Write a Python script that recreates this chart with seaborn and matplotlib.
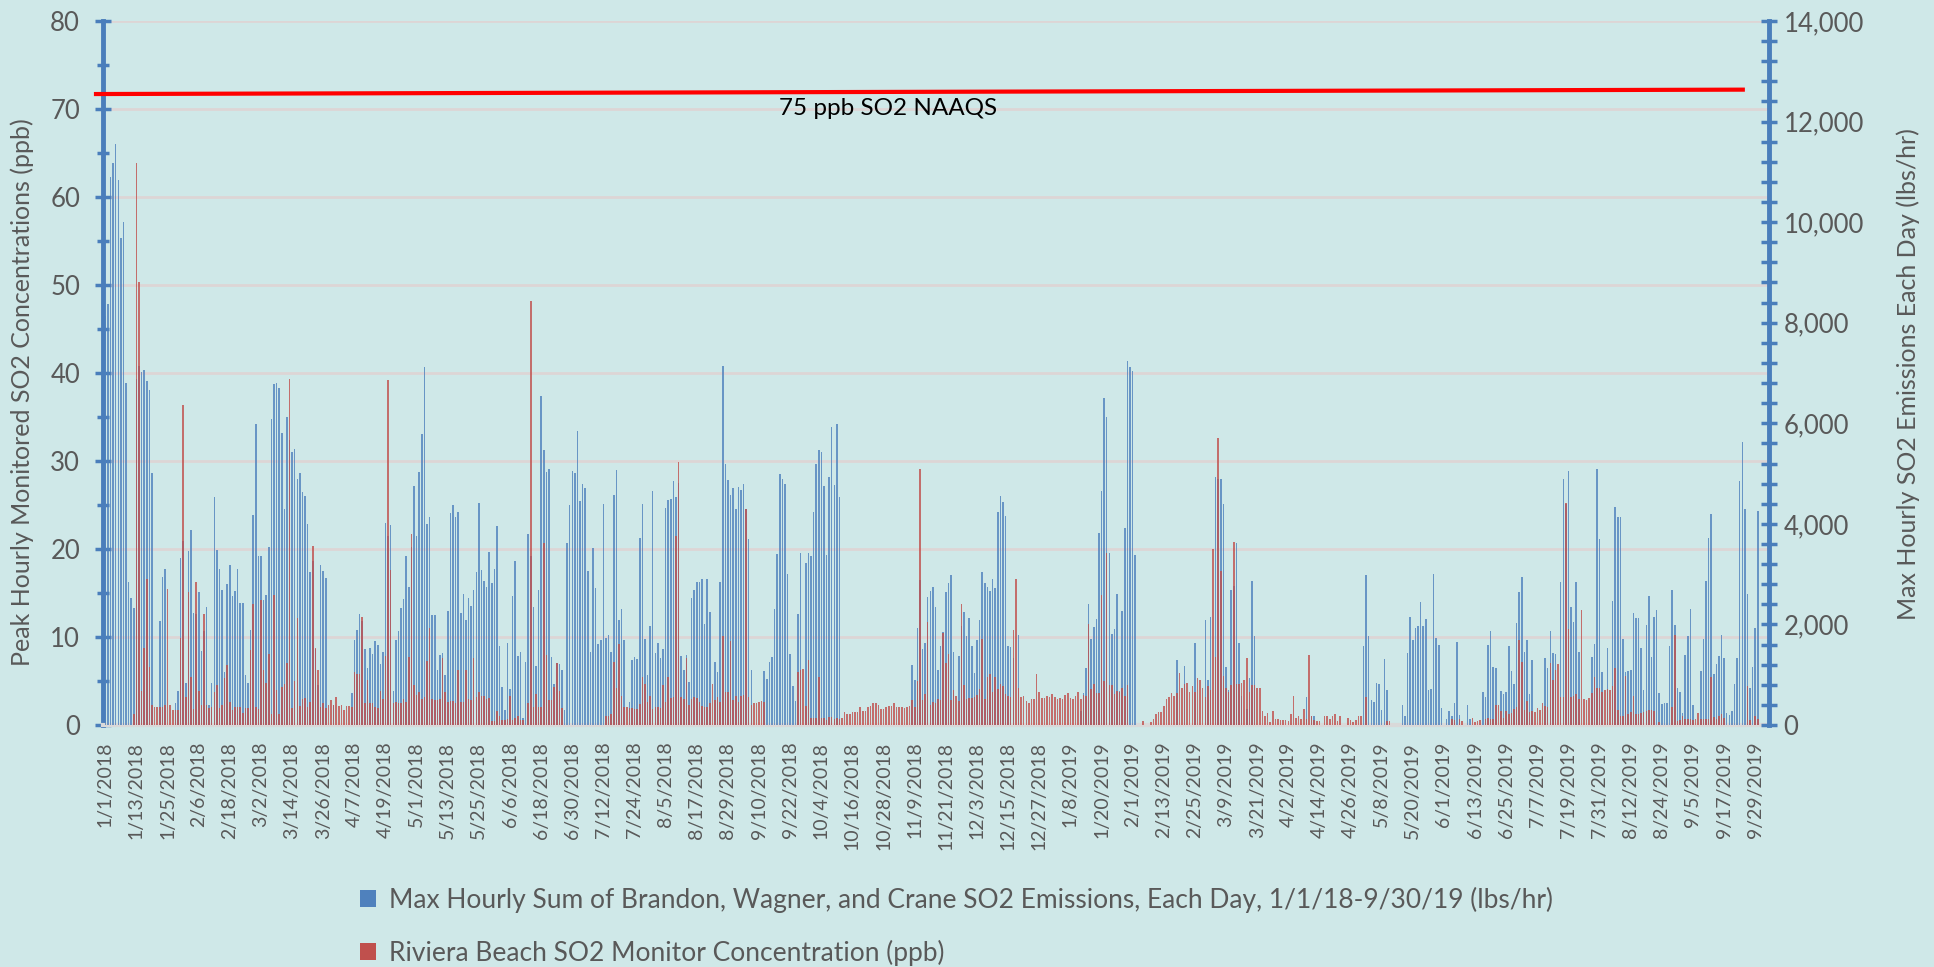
import numpy as np
import pandas as pd
import matplotlib
matplotlib.use("Agg")
import matplotlib.pyplot as plt
import seaborn as sns
from matplotlib.ticker import MultipleLocator, FuncFormatter
from matplotlib.patches import Patch

# ---------------- data ----------------
# Max hourly summed SO2 emissions (lbs/hr), one value per day, by period
emis_jan_feb18 = [8130, 8380, 10890, 11170, 11560, 10830, 9690, 10010, 6800, 2850,
                  2530, 2330, 6880, 7130, 7020, 7060, 6850, 6660, 5020, 0,
                  0, 2070, 2940, 3100, 0, 0, 0, 440, 680, 3320,
                  3650, 840, 3460, 3870, 2220, 2210, 2640, 1480, 1860, 2340,
                  390, 840, 4540, 3490, 3100, 2690, 1050, 2800, 3180, 2560,
                  2670, 3100, 2430, 2420, 1000, 840, 1890, 4170]
emis_feb_apr18 = [5980, 3360, 3360, 2490, 2580, 3530, 6080, 6780, 6810, 6710,
                  5800, 4290, 6130, 5660, 5430, 5480, 4890, 5020, 4630, 4550,
                  3990, 3040, 3260, 1520, 790, 3180, 3060, 2920, 0, 0,
                  390, 0, 0, 0, 0, 0, 0, 640, 1700, 1890,
                  2200, 2060, 1510, 1130, 1540, 1420, 1670, 1600, 1210, 1450,
                  4010, 3760, 3980, 680, 1700, 1860, 2330, 2500, 3360]
emis_apr_jun18 = [2750, 3530, 4760, 3750, 5040, 5780, 7110, 4000, 4130, 2180,
                  2190, 1100, 1400, 1440, 1000, 2260, 4210, 4380, 4130, 4230,
                  2220, 2610, 2090, 2520, 2370, 2690, 3040, 4420, 3090, 2870,
                  2750, 3450, 2820, 3100, 3950, 1580, 750, 290, 1640, 720,
                  2560, 3260, 1370, 1450, 140, 1260, 3800, 3360, 2350, 1170,
                  2680, 6540, 5460, 5030, 5100, 1350, 820, 1230]
emis_jun_aug18 = [1220, 1100, 300, 3610, 4370, 5060, 5010, 5840, 4450, 4790,
                  4720, 3060, 1450, 3510, 2720, 1610, 1690, 4390, 1740, 1780,
                  1460, 4580, 5080, 2080, 2300, 1700, 0, 450, 1300, 1360,
                  1320, 3720, 4390, 1720, 1000, 1960, 4660, 1430, 1640, 1330,
                  1520, 4320, 4470, 4490, 4850, 4530, 4810, 1380, 1090, 1400,
                  860, 2530, 2690, 2850, 2850, 2900, 2000, 2910, 2240]
emis_aug_oct18 = [0, 1260, 1060, 2850, 7130, 5200, 4870, 4580, 4720, 4290,
                  4740, 4670, 4790, 4290, 3700, 1100, 0, 0, 0, 0,
                  1080, 910, 1250, 1350, 2310, 3400, 4990, 4890, 4800, 3000,
                  1410, 770, 480, 2200, 3420, 0, 3220, 3420, 3360, 4240,
                  5200, 5460, 5430, 4760, 3380, 4940, 5930, 4780, 5990, 4530,
                  0, 0, 0, 0, 0, 0, 0, 0]
emis_oct_dec18 = [0, 0, 0, 0, 0, 0, 0, 0, 0, 0,
                  0, 0, 0, 0, 0, 0, 0, 0, 0,
                  1200, 890, 1930, 2880, 1510, 1640, 2540, 2660, 2750, 2340,
                  1100, 1580, 1840, 2650, 2820, 2980, 1460, 0, 1370, 1970,
                  2240, 1770, 2120, 1580, 1030, 1690, 2080, 3050, 2820, 2740,
                  2670, 2910, 2720, 4240, 4550, 4440, 4160, 1570, 1550, 1330]
emis_dec18_feb19 = [0, 1780,
                    0, 0, 0, 0, 0, 0, 0, 0, 0, 0,
                    0, 0, 0, 0, 0, 0, 0, 0, 0, 0,
                    0, 0, 0,
                    270, 630, 1130, 2410, 1710, 1950, 2110, 3810, 4660, 6510,
                    6130, 3430, 1800, 1900, 2600, 670, 2270, 3910, 7230, 7120,
                    7030, 3380, 0, 0, 0, 0, 0, 0, 0, 0, 0, 0, 0]
emis_feb_apr19 = [0, 0, 0, 0, 1300, 0, 0, 1170, 0, 0,
                  0, 1640, 0, 0, 0, 2080, 890, 2140, 0, 4930,
                  4900, 4890, 4390, 1150, 700, 2680, 2770, 3610, 1630, 580,
                  0, 310, 930, 2860, 1770, 0, 0, 0, 0, 0,
                  0, 0, 0, 0, 0, 0, 0, 0, 0, 0, 0, 0, 0, 0,
                  560, 0, 180, 180]
emis_apr_jun19 = [0, 0, 0, 0, 0, 0, 0, 0, 0, 0, 0, 0, 0, 0, 0, 0, 0, 0,
                  1570, 2980, 1770, 500, 460, 840, 810, 300, 1320, 700,
                  0, 0, 0, 0, 0, 400, 180, 1430, 2150, 1700,
                  1930, 1960, 2450, 1970, 2110, 690, 720, 3000, 1730, 1600,
                  330, 0, 110, 270, 170, 440, 1650, 200, 0, 0, 400]
emis_jun_aug19 = [120, 0, 0, 0, 0, 660, 560, 1600, 1870, 1150,
                  1130, 0, 680, 610, 650, 1570, 1070, 810, 2030, 2640,
                  2940, 1460, 1690, 610, 1300, 0, 0, 0, 0, 1340,
                  1130, 1860, 1440, 1410, 0, 2850, 4890, 4400, 5060, 2350,
                  2040, 2850, 1450, 0, 0, 0, 0, 1360, 1620, 5090,
                  3690, 1050, 0, 1540, 0, 2470, 4340, 4130, 4140]
emis_aug_sep19 = [1710, 1060, 1080, 1090, 2220, 2120, 2130, 1540, 690, 1980,
                  2570, 1360, 2140, 2280, 630, 410, 430, 440, 1570, 2690,
                  1990, 730, 660, 240, 1390, 1770, 2310, 390, 0, 0,
                  1070, 1720, 2870, 3710, 4190, 1010, 1220, 1380, 1790, 1340,
                  240, 200, 270, 810, 1340, 4860, 5630, 4300, 2600, 740,
                  1150, 1920, 4260]

# Riviera Beach SO2 monitor peak hourly concentration (ppb), by period
conc_jan_feb18 = [0, 0, 0, 0, 0, 0, 0, 0, 0, 0,
                  0, 1.3, 63.9, 50.3, 3.9, 8.7, 16.6, 6.6, 2.3, 2.1,
                  2.1, 2.1, 2.1, 2.3, 15.5, 2.3, 1.7, 1.7, 1.7, 9.9,
                  36.4, 3.2, 15.1, 5.4, 1.8, 16.2, 3.9, 2.3, 12.6, 2.3,
                  1.9, 2.1, 3.8, 4.6, 1.9, 2.3, 5.3, 6.8, 2.6, 1.7,
                  2.1, 2.0, 2.0, 1.4, 1.9, 1.9, 8.5, 13.7]
conc_feb_apr18 = [2.1, 1.8, 14.2, 6.2, 4.8, 8.1, 1.3, 14.8, 4.0, 1.3,
                  4.3, 4.7, 7.1, 39.3, 1.9, 5.0, 12.2, 2.2, 3.0, 3.1,
                  2.0, 2.6, 20.3, 8.7, 6.3, 2.1, 2.5, 1.9, 2.3, 2.8,
                  2.3, 3.2, 2.2, 2.3, 1.7, 2.2, 2.2, 2.1, 6.0, 5.8,
                  5.8, 12.3, 2.5, 5.1, 2.5, 2.5, 2.1, 1.9, 3.9, 2.9,
                  7.8, 39.2, 17.6, 2.5, 2.6, 2.5, 2.5, 3.0, 2.6]
conc_apr_jun18 = [7.7, 21.7, 4.5, 3.4, 3.7, 3.0, 3.2, 7.3, 11.0, 3.0,
                  2.8, 2.8, 3.0, 7.6, 3.7, 2.6, 2.7, 2.7, 2.5, 6.2,
                  2.6, 2.6, 6.3, 2.9, 2.8, 7.6, 3.2, 3.7, 3.3, 3.3,
                  3.0, 3.1, 0.4, 0.5, 1.6, 1.0, 0.6, 0.6, 0.7, 3.3,
                  0.6, 0.8, 1.0, 0.6, 0.6, 0, 2.5, 48.2, 2.1, 3.5,
                  2.1, 2.1, 20.7, 7.9, 2.8, 2.8, 4.3, 7.0]
conc_jun_aug18 = [3.9, 1.9, 0, 0, 0, 0, 0, 0, 0, 0,
                  0, 0, 0, 0, 0, 0, 0, 0, 1.0, 1.0,
                  1.3, 7.2, 4.2, 9.2, 3.3, 2.1, 2.0, 1.9, 1.9, 1.8,
                  1.8, 2.4, 5.5, 4.7, 2.6, 3.3, 1.8, 2.0, 2.1, 1.9,
                  4.6, 2.6, 5.4, 3.1, 3.2, 21.5, 29.9, 3.2, 3.0, 7.6,
                  2.3, 2.9, 3.2, 3.1, 2.6, 2.2, 2.1, 2.1, 2.5]
conc_aug_oct18 = [4.7, 2.8, 3.2, 2.6, 10.1, 3.7, 3.8, 9.6, 2.8, 3.3,
                  2.6, 3.3, 3.4, 24.6, 3.2, 2.3, 2.5, 2.5, 2.6, 2.7,
                  2.6, 0, 0, 0, 0, 0, 0, 0, 0, 0,
                  0, 0, 0, 6.0, 6.3, 6.4, 2.2, 7.4, 0.8, 0.8,
                  0.8, 5.4, 0.8, 0.8, 0.6, 0.9, 0.9, 0.7, 0.8, 0.7,
                  0.8, 1.5, 1.3, 1.3, 1.5, 1.5, 1.5, 2.0]
conc_oct_dec18 = [1.6, 1.6, 2.0, 2.2, 2.5, 2.5, 2.3, 1.8, 1.8, 2.0,
                  2.2, 2.2, 2.5, 2.0, 2.1, 2.1, 1.9, 2.1, 2.2,
                  2.8, 2.0, 5.0, 29.1, 2.8, 3.5, 11.7, 2.3, 2.6, 2.5,
                  3.0, 2.8, 10.5, 7.0, 8.1, 2.8, 4.0, 3.3, 2.7, 13.7,
                  4.6, 3.0, 3.1, 3.1, 3.2, 3.4, 4.1, 9.8, 3.0, 5.5,
                  5.8, 3.7, 5.5, 4.1, 4.7, 4.4, 3.5, 3.3, 3.2, 10.8]
conc_dec18_feb19 = [16.6, 4.2,
                    3.2, 3.3, 2.7, 2.5, 2.9, 3.0, 5.8, 3.7, 3.1, 3.1,
                    3.3, 3.2, 3.5, 3.2, 3.0, 3.1, 3.0, 3.4, 3.6, 3.1,
                    2.9, 3.3, 3.7,
                    3.0, 3.4, 3.3, 11.5, 4.1, 4.7, 3.6, 3.6, 14.8, 5.0,
                    19.5, 4.5, 4.5, 3.5, 3.9, 3.8, 4.2, 3.3, 4.6, 0,
                    0, 0, 0, 0, 0.5, 0, 0, 0.3, 0.7, 1.3, 1.5, 1.5, 2.2]
conc_feb_apr19 = [3.0, 3.2, 3.6, 3.3, 3.6, 5.9, 4.2, 4.7, 4.8, 3.8,
                  4.4, 3.8, 5.3, 5.1, 4.2, 3.2, 4.4, 4.0, 20.0, 7.7,
                  32.6, 17.5, 5.6, 4.2, 3.8, 4.6, 20.8, 4.7, 4.7, 4.8,
                  5.1, 7.6, 3.8, 4.5, 4.5, 4.2, 4.2, 1.6, 1.0, 1.4,
                  0.3, 1.6, 0.7, 0.7, 0.6, 0.6, 0.6, 0.5, 1.3, 3.3,
                  0.8, 1.0, 0.7, 1.8, 0.7, 8.0, 1.0, 0.6]
conc_apr_jun19 = [0.5, 0.4, 0, 1.0, 1.0, 0.7, 1.0, 1.2, 0.4, 1.0,
                  0, 0, 0.8, 0.6, 0.3, 0.6, 1.0, 1.0,
                  0, 3.2, 0, 0, 0, 0, 0, 0, 0, 0.4,
                  0.4, 0, 0, 0, 0, 0, 0, 0, 0, 0,
                  0, 0, 0, 0, 0, 0, 0, 0, 0, 0,
                  0, 0, 0, 0, 0.7, 0.6, 0, 0.7, 0.5, 0, 0]
conc_jun_aug19 = [0, 0.8, 0.3, 0.4, 0.6, 0, 0.7, 0.8, 0.7, 0.7,
                  2.3, 2.3, 1.6, 0.8, 1.6, 1.3, 1.4, 1.8, 2.0, 9.7,
                  7.2, 1.7, 2.7, 1.5, 1.6, 1.5, 1.9, 1.7, 2.5, 2.2,
                  2.0, 7.0, 5.1, 6.3, 6.9, 3.2, 3.2, 25.2, 10.9, 3.2,
                  3.3, 3.5, 3.0, 13.1, 3.0, 2.8, 3.1, 3.6, 5.4, 4.2,
                  4.2, 3.8, 4.0, 4.1, 4.0, 4.4, 6.5, 1.7, 1.0]
conc_aug_sep19 = [1.0, 5.6, 1.3, 1.5, 3.3, 1.3, 1.3, 1.4, 1.5, 1.6,
                  1.7, 1.7, 1.6, 0, 0.3, 0, 0, 0, 0, 2.0,
                  10.2, 0.4, 0.6, 1.0, 0.7, 0.7, 0.7, 0.6, 0.7, 1.4,
                  0.7, 0.7, 0.7, 0.7, 5.4, 0.9, 0.7, 1.0, 1.3, 0.8,
                  0, 0, 0, 0, 0, 0, 0, 0, 4.4, 0.6,
                  0, 1.0, 0.7]

start_date = "2018-01-01"
label_every = 12                      # one date label every 12 days
naaqs_days = [-4.4, 632.0]            # extent of the drawn NAAQS line (day index)
naaqs_ppb = [71.7, 72.2]
naaqs_text = "75 ppb SO2 NAAQS"
series_names = ["Max Hourly Sum of Brandon, Wagner, and Crane SO2 Emissions, Each Day, 1/1/18-9/30/19 (lbs/hr)",
                "Riviera Beach SO2 Monitor Concentration (ppb)"]

emissions = np.array(emis_jan_feb18 + emis_feb_apr18 + emis_apr_jun18 + emis_jun_aug18 +
                     emis_aug_oct18 + emis_oct_dec18 + emis_dec18_feb19 + emis_feb_apr19 +
                     emis_apr_jun19 + emis_jun_aug19 + emis_aug_sep19, dtype=float)
concentration = np.array(conc_jan_feb18 + conc_feb_apr18 + conc_apr_jun18 + conc_jun_aug18 +
                         conc_aug_oct18 + conc_oct_dec18 + conc_dec18_feb19 + conc_feb_apr19 +
                         conc_apr_jun19 + conc_jun_aug19 + conc_aug_sep19, dtype=float)
assert len(emissions) == len(concentration), (len(emissions), len(concentration))
n = len(emissions)
dates = pd.date_range(start_date, periods=n, freq="D")
df = pd.DataFrame({"day": np.arange(n), "emis": emissions, "conc": concentration})

# ---------------- style ----------------
sns.set_theme(style="white")
plt.rcParams["font.family"] = ["Lato", "DejaVu Sans"]
BG = "#cfe8e8"
AXBLUE = "#4a7ebb"
GRAY = "#595959"
BLUE = "#4f81bd"
RED = "#c0504d"

fig = plt.figure(figsize=(19.34, 9.67), dpi=100, facecolor=BG)
L, B, R, T = 103 / 1934, 1 - 725 / 967, 1769 / 1934, 1 - 21 / 967
ax = fig.add_axes([L, B, R - L, T - B])
ax.set_facecolor(BG)
ax2 = ax.twinx()
ax3 = ax.twinx()

sns.barplot(data=df, x="day", y="emis", native_scale=True, width=0.6, color=BLUE,
            saturation=1, alpha=0.8, errorbar=None, linewidth=0, ax=ax2)
sns.barplot(data=df, x="day", y="conc", native_scale=True, width=0.6, color=RED,
            saturation=1, alpha=0.8, errorbar=None, linewidth=0, ax=ax3)

# NAAQS line + label
ax3.plot(naaqs_days, naaqs_ppb, color="#ff0000", lw=3, clip_on=False, solid_capstyle="butt")
ax3.text(301.6, 70.1, naaqs_text, ha="center", va="center", fontsize=17.5, color="black")

# limits
for a in (ax, ax3):
    a.set_ylim(0, 80)
ax2.set_ylim(0, 14000)
ax.set_xlim(-0.9, n + 3.3)

# left axis
ax.yaxis.set_major_locator(MultipleLocator(10))
ax.yaxis.set_minor_locator(MultipleLocator(5))
ax.tick_params(axis="y", which="major", direction="inout", length=11, width=2.5,
               color=AXBLUE, labelsize=18.5, labelcolor=GRAY, pad=11, left=True)
ax.tick_params(axis="y", which="minor", direction="inout", length=9, width=2.5,
               color=AXBLUE, left=True)
ax.grid(axis="y", which="major", color="#ddd5d5", lw=2)
ax.set_axisbelow(True)

# right axis
ax2.yaxis.set_major_locator(MultipleLocator(2000))
ax2.yaxis.set_minor_locator(MultipleLocator(400))
ax2.yaxis.set_major_formatter(FuncFormatter(lambda v, p: f"{int(v):,}"))
ax2.tick_params(axis="y", which="major", direction="inout", length=11, width=2.5,
                color=AXBLUE, labelsize=18.5, labelcolor=GRAY, pad=5, right=True)
ax2.tick_params(axis="y", which="minor", direction="inout", length=11, width=2.5,
                color=AXBLUE, right=True)
ax2.set_ylabel("")
ax2.set_xlabel("")
ax3.set_ylabel("")
ax3.set_xlabel("")
ax3.set_yticks([])
ax3.tick_params(axis="both", which="both", length=0, labelleft=False, labelright=False)

# x axis (date labels)
tick_pos = np.arange(0, n, label_every)
tick_lab = [f"{d.month}/{d.day}/{d.year}" for d in dates[tick_pos]]
ax.set_xticks(tick_pos)
ax.set_xticklabels(tick_lab, rotation=90, fontsize=14, color=GRAY)
ax.xaxis.set_minor_locator(plt.NullLocator())
ax.tick_params(axis="x", which="major", length=0, pad=12)
ax.set_xlabel("")

# spines
for a in (ax, ax2, ax3):
    for s in a.spines.values():
        s.set_visible(False)
ax.spines["left"].set_visible(True)
ax.spines["left"].set_color(AXBLUE)
ax.spines["left"].set_linewidth(3.5)
ax.spines["bottom"].set_visible(True)
ax.spines["bottom"].set_color("#d9d9d9")
ax.spines["bottom"].set_linewidth(3)
ax2.spines["right"].set_visible(True)
ax2.spines["right"].set_color(AXBLUE)
ax2.spines["right"].set_linewidth(3.5)

# axis titles
fig.text(22 / 1934, 1 - 392 / 967, "Peak Hourly Monitored SO2 Concentrations (ppb)",
         rotation=90, ha="center", va="center", fontsize=18, color=GRAY)
fig.text(1908 / 1934, 1 - 374 / 967, "Max Hourly SO2 Emissions Each Day (lbs/hr)",
         rotation=90, ha="center", va="center", fontsize=18, color=GRAY)

# legend
handles = [Patch(facecolor=BLUE, edgecolor="none"), Patch(facecolor=RED, edgecolor="none")]
fig.legend(handles, series_names, loc="upper left", bbox_to_anchor=(360 / 1934, 1 - 887 / 967),
           frameon=False, fontsize=19, labelcolor=GRAY, handlelength=0.6, handleheight=0.6,
           handletextpad=0.5, labelspacing=1.0, borderaxespad=0, borderpad=0)

fig.savefig("out.png", dpi=100, facecolor=BG)
